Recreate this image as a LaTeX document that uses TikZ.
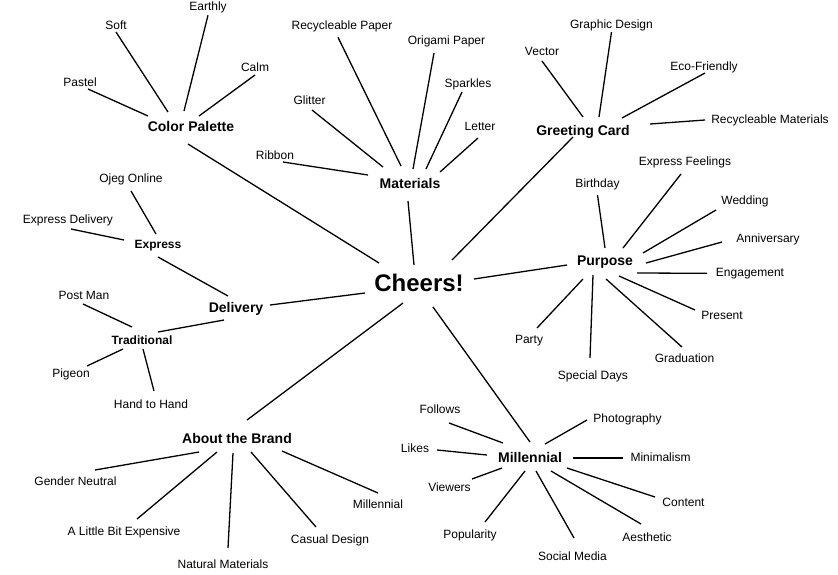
\documentclass[tikz,border=0pt]{standalone}
\usepackage{fontspec}
\setmainfont{Liberation Sans}
\begin{document}
\begin{tikzpicture}[x=1pt,y=-1pt,
  leaf/.style={font=\fontsize{12}{14}\selectfont, anchor=base, inner sep=0pt},
  cat/.style={font=\fontsize{14}{16}\selectfont\bfseries, anchor=base, inner sep=0pt},
  subcat/.style={font=\fontsize{12}{14}\selectfont\bfseries, anchor=base, inner sep=0pt},
  hub/.style={font=\fontsize{24}{28}\selectfont\bfseries, anchor=base, inner sep=0pt},
  link/.style={line width=1.3pt, black}]
\useasboundingbox[fill=white] (0,0) rectangle (838,574);

% hub
\node[hub] (cheers) at (419,291) {Cheers!};

% Color Palette
\node[cat] (cp) at (191,131) {Color Palette};
\node[leaf] (pastel) at (80,86) {Pastel};
\node[leaf] (soft) at (116,29) {Soft};
\node[leaf] (earthly) at (208,10.3) {Earthly};
\node[leaf] (calm) at (255,71.5) {Calm};

% Materials
\node[cat] (mat) at (410,188) {Materials};
\node[leaf] (rpaper) at (342,29.3) {Recycleable Paper};
\node[leaf] (origami) at (446.5,44.6) {Origami Paper};
\node[leaf] (sparkles) at (468,87.6) {Sparkles};
\node[leaf] (letter) at (480,130) {Letter};
\node[leaf] (glitter) at (309.5,104) {Glitter};
\node[leaf] (ribbon) at (275,159) {Ribbon};

% Greeting Card
\node[cat] (gc) at (583,135) {Greeting Card};
\node[leaf] (vector) at (542,55) {Vector};
\node[leaf] (graphic) at (611.5,28) {Graphic Design};
\node[leaf] (eco) at (704,70) {Eco-Friendly};
\node[leaf] (rmat) at (770,123) {Recycleable Materials};

% Purpose
\node[cat] (purpose) at (605,265) {Purpose};
\node[leaf] (birthday) at (597.5,187) {Birthday};
\node[leaf] (feelings) at (685,165) {Express Feelings};
\node[leaf] (wedding) at (745,204) {Wedding};
\node[leaf] (anniv) at (768,242) {Anniversary};
\node[leaf] (engage) at (750,276.3) {Engagement};
\node[leaf] (present) at (722,319) {Present};
\node[leaf] (grad) at (684.5,362.7) {Graduation};
\node[leaf] (special) at (593,379.5) {Special Days};
\node[leaf] (party) at (529,343.6) {Party};

% Millennial
\node[cat] (mill) at (530,462) {Millennial};
\node[leaf] (follows) at (440,413) {Follows};
\node[leaf] (likes) at (415,452) {Likes};
\node[leaf] (viewers) at (449.5,491.7) {Viewers};
\node[leaf] (popularity) at (470,538) {Popularity};
\node[leaf] (social) at (572.5,560) {Social Media};
\node[leaf] (aesthetic) at (647,541) {Aesthetic};
\node[leaf] (content) at (683.5,506.7) {Content};
\node[leaf] (minimal) at (660.5,461.5) {Minimalism};
\node[leaf] (photo) at (627.5,422) {Photography};

% About the Brand
\node[cat] (brand) at (237,443.5) {About the Brand};
\node[leaf] (gender) at (75.5,485.7) {Gender Neutral};
\node[leaf] (expensive) at (124,535.3) {A Little Bit Expensive};
\node[leaf] (natural) at (223,568.7) {Natural Materials};
\node[leaf] (casual) at (330,543.6) {Casual Design};
\node[leaf] (bmill) at (378,508) {Millennial};

% Delivery
\node[cat] (delivery) at (236,312.7) {Delivery};
\node[subcat] (express) at (158,248.6) {Express};
\node[leaf] (ojeg) at (131,182.6) {Ojeg Online};
\node[leaf] (expdel) at (68,223.6) {Express Delivery};
\node[subcat] (trad) at (142,344) {Traditional};
\node[leaf] (postman) at (84,299) {Post Man};
\node[leaf] (pigeon) at (71,377) {Pigeon};
\node[leaf] (hand) at (151,408) {Hand to Hand};

% ---- connectors ----
\begin{scope}[link]
% hub
\draw ([shift={(-3,13)}]cp.base) -- ([shift={(-40,-28)}]cheers.base);
\draw ([shift={(-2,13)}]mat.base) -- ([shift={(-5,-26)}]cheers.base);
\draw ([shift={(-10,2)}]gc.base) -- ([shift={(33,-31)}]cheers.base);
\draw ([shift={(55,-12)}]cheers.base) -- ([shift={(-38,0)}]purpose.base);
\draw ([shift={(14,16)}]cheers.base) -- ([shift={(0,-20)}]mill.base);
\draw ([shift={(-16,12)}]cheers.base) -- ([shift={(10,-23.5)}]brand.base);
\draw ([shift={(-54,2)}]cheers.base) -- ([shift={(34,-7.7)}]delivery.base);

% Color Palette
\draw ([shift={(8,3)}]pastel.base) -- ([shift={(-43,-15)}]cp.base);
\draw ([shift={(0,3)}]soft.base) -- ([shift={(-23,-19)}]cp.base);
\draw ([shift={(0,5)}]earthly.base) -- ([shift={(-7,-20)}]cp.base);
\draw ([shift={(0,3.5)}]calm.base) -- ([shift={(8,-15)}]cp.base);

% Materials
\draw ([shift={(-4,8)}]rpaper.base) -- ([shift={(-9,-22)}]mat.base);
\draw ([shift={(2.5,6)}]glitter.base) -- ([shift={(-27,-21)}]mat.base);
\draw ([shift={(8,3)}]ribbon.base) -- ([shift={(-42,-13)}]mat.base);
\draw ([shift={(-12.5,8.4)}]origami.base) -- ([shift={(3,-19)}]mat.base);
\draw ([shift={(-6,4.4)}]sparkles.base) -- ([shift={(16,-19)}]mat.base);
\draw ([shift={(-2,8)}]letter.base) -- ([shift={(30,-16)}]mat.base);

% Greeting Card
\draw ([shift={(0,6)}]vector.base) -- ([shift={(0,-18)}]gc.base);
\draw ([shift={(0,4)}]graphic.base) -- ([shift={(16,-18)}]gc.base);
\draw ([shift={(1,3)}]eco.base) -- ([shift={(39,-17)}]gc.base);
\draw ([shift={(-65,-3)}]rmat.base) -- ([shift={(67,-11)}]gc.base);

% Purpose
\draw ([shift={(0,8)}]birthday.base) -- ([shift={(0,-17)}]purpose.base);
\draw ([shift={(-4,9)}]feelings.base) -- ([shift={(18,-17)}]purpose.base);
\draw ([shift={(-29,6)}]wedding.base) -- ([shift={(38,-12)}]purpose.base);
\draw ([shift={(-46,0)}]anniv.base) -- ([shift={(41,-2)}]purpose.base);
\draw ([shift={(-43,-3)}]engage.base) -- ([shift={(32,8)}]purpose.base);
\draw ([shift={(-27,-9)}]present.base) -- ([shift={(14,11)}]purpose.base);
\draw ([shift={(-2.5,-15.7)}]grad.base) -- ([shift={(1,14)}]purpose.base);
\draw ([shift={(-3,-21.5)}]special.base) -- ([shift={(-12,10)}]purpose.base);
\draw ([shift={(8,-15.6)}]party.base) -- ([shift={(-22,14)}]purpose.base);

% Millennial
\draw ([shift={(9,10)}]follows.base) -- ([shift={(-27,-19)}]mill.base);
\draw ([shift={(22,-2)}]likes.base) -- ([shift={(-43,-7)}]mill.base);
\draw ([shift={(22.5,-12.7)}]viewers.base) -- ([shift={(-28,6)}]mill.base);
\draw ([shift={(15,-16)}]popularity.base) -- ([shift={(-5,9)}]mill.base);
\draw ([shift={(1.5,-22)}]social.base) -- ([shift={(6,9)}]mill.base);
\draw ([shift={(-6,-17)}]aesthetic.base) -- ([shift={(21,9)}]mill.base);
\draw ([shift={(-28.5,-9.7)}]content.base) -- ([shift={(37,6)}]mill.base);
\draw ([shift={(-37.5,-3.5)}]minimal.base) -- ([shift={(43,-4)}]mill.base);
\draw ([shift={(-40.5,-2)}]photo.base) -- ([shift={(15,-18)}]mill.base);

% About the Brand
\draw ([shift={(19.5,-15.7)}]gender.base) -- ([shift={(-38,8.5)}]brand.base);
\draw ([shift={(13,-16.3)}]expensive.base) -- ([shift={(-20,8.5)}]brand.base);
\draw ([shift={(5,-20.7)}]natural.base) -- ([shift={(-4,9.5)}]brand.base);
\draw ([shift={(-14,-16.6)}]casual.base) -- ([shift={(14,8.5)}]brand.base);
\draw ([shift={(0,-15)}]bmill.base) -- ([shift={(45,7.5)}]brand.base);

% Delivery
\draw ([shift={(-8,-16.7)}]delivery.base) -- ([shift={(0,8.4)}]express.base);
\draw ([shift={(-12,7.3)}]delivery.base) -- ([shift={(16,-12)}]trad.base);
\draw ([shift={(0,8.4)}]ojeg.base) -- ([shift={(-2,-14.6)}]express.base);
\draw ([shift={(3,5.4)}]expdel.base) -- ([shift={(-34,-8.6)}]express.base);
\draw ([shift={(-1,5)}]postman.base) -- ([shift={(-10,-17)}]trad.base);
\draw ([shift={(16,-11)}]pigeon.base) -- ([shift={(-19,5)}]trad.base);
\draw ([shift={(3,-17)}]hand.base) -- ([shift={(1,5)}]trad.base);
\end{scope}
\end{tikzpicture}
\end{document}
